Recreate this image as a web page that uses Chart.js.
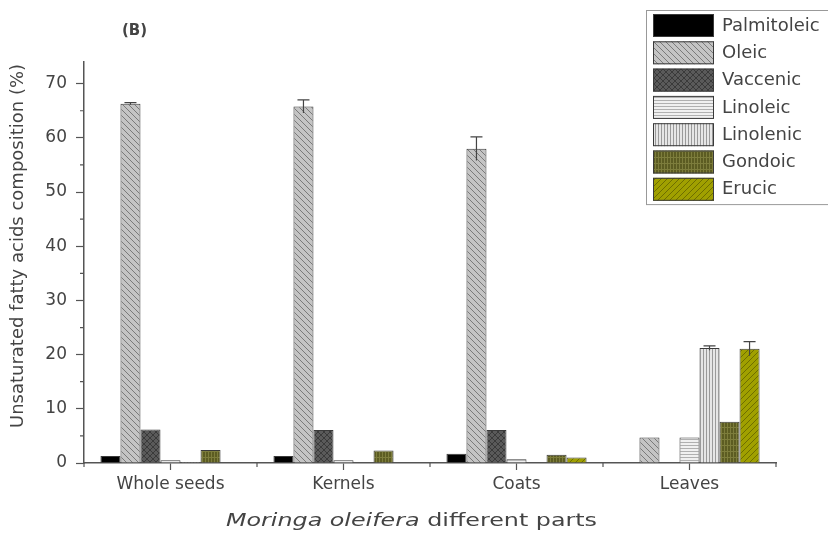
<!DOCTYPE html>
<html>
<head>
<meta charset="utf-8">
<script src="https://cdn.jsdelivr.net/npm/chart.js@4"></script>
<style>
  html, body { margin: 0; padding: 0; background: #fff; }
  #wrap { width: 828px; height: 534px; position: relative; }
</style>
</head>
<body>
<div id="wrap"><canvas id="fattyChart"></canvas></div>
<script>
// data
const parts = ["Whole seeds", "Kernels", "Coats", "Leaves"];
const acids = ["Palmitoleic", "Oleic", "Vaccenic", "Linoleic", "Linolenic", "Gondoic", "Erucic"];
const palmitoleic = [1.3, 1.3, 1.7, 0];
const oleic = [66.3, 65.8, 58.0, 4.7];
const vaccenic = [6.2, 6.1, 6.1, 0];
const linoleic = [0.5, 0.5, 0.7, 4.7];
const linolenic = [0.2, 0.1, 0, 21.2];
const gondoic = [2.4, 2.3, 1.5, 7.6];
const erucic = [0, 0, 1.0, 21.1];
const oleicErr = [0.2, 1.2, 2.2, 0];
const linolenicErr = [0, 0, 0, 0.4];
const erucicErr = [0, 0, 0, 1.3];
const yTicks = [0, 10, 20, 30, 40, 50, 60, 70];

const FONT = "'DejaVu Sans', 'Liberation Sans', sans-serif";
const TXT = "#444";

function makePattern(bg, fg, kind) {
  const c = document.createElement("canvas");
  c.width = 6; c.height = 6;
  const g = c.getContext("2d");
  g.fillStyle = bg;
  g.fillRect(0, 0, 6, 6);
  g.strokeStyle = fg;
  g.lineWidth = 1;
  g.beginPath();
  if (kind === "back") {          // "\" lines
    g.moveTo(-1, -1); g.lineTo(7, 7);
    g.moveTo(-1, 5); g.lineTo(1, 7);
    g.moveTo(5, -1); g.lineTo(7, 1);
  } else if (kind === "fwd") {    // "/" lines
    g.moveTo(-1, 7); g.lineTo(7, -1);
    g.moveTo(-1, 1); g.lineTo(1, -1);
    g.moveTo(5, 7); g.lineTo(7, 5);
  } else if (kind === "cross") {
    g.moveTo(-1, -1); g.lineTo(7, 7);
    g.moveTo(-1, 7); g.lineTo(7, -1);
  } else if (kind === "horiz") {
    g.moveTo(0, 1.5); g.lineTo(6, 1.5);
    g.moveTo(0, 4.5); g.lineTo(6, 4.5);
  } else if (kind === "vert") {
    g.moveTo(1.5, 0); g.lineTo(1.5, 6);
    g.moveTo(4.5, 0); g.lineTo(4.5, 6);
  } else if (kind === "grid") {
    g.moveTo(0, 1.5); g.lineTo(6, 1.5);
    g.moveTo(1.5, 0); g.lineTo(1.5, 6);
    g.moveTo(4.5, 0); g.lineTo(4.5, 6);
  }
  g.stroke();
  return g.createPattern(c, "repeat");
}

const fills = [
  "#000000",
  makePattern("#c4c4c4", "#7a7a7a", "back"),
  makePattern("#5a5a5a", "#3a3a3a", "cross"),
  makePattern("#f0f0f0", "#b0b0b0", "horiz"),
  makePattern("#e6e6e6", "#9a9a9a", "vert"),
  makePattern("#5c5c22", "#7d7d3c", "grid"),
  makePattern("#a0a000", "#6e6e00", "fwd")
];
const seriesData = [palmitoleic, oleic, vaccenic, linoleic, linolenic, gondoic, erucic];
const seriesErr = [null, oleicErr, null, null, linolenicErr, null, erucicErr];

const datasets = acids.map((name, i) => ({
  label: name,
  data: seriesData[i],
  errors: seriesErr[i],
  backgroundColor: fills[i],
  borderColor: "#3a3a3a",
  borderWidth: 1,
  borderSkipped: "bottom"
}));

// error bars drawn from the y scale
const errorBars = {
  id: "errorBars",
  afterDatasetsDraw(chart) {
    const ctx = chart.ctx;
    const y = chart.scales.y;
    ctx.save();
    ctx.strokeStyle = "#444";
    ctx.lineWidth = 1.2;
    chart.data.datasets.forEach((ds, i) => {
      if (!ds.errors) return;
      chart.getDatasetMeta(i).data.forEach((bar, j) => {
        const e = ds.errors[j];
        if (!e) return;
        const top = y.getPixelForValue(ds.data[j] + e);
        const mid = y.getPixelForValue(ds.data[j] - e);
        ctx.beginPath();
        ctx.moveTo(bar.x, mid); ctx.lineTo(bar.x, top);
        ctx.moveTo(bar.x - 6, top); ctx.lineTo(bar.x + 6, top);
        ctx.stroke();
      });
    });
    ctx.restore();
  }
};

// minor ticks, titles and the boxed legend
const decorations = {
  id: "decorations",
  afterDraw(chart) {
    const ctx = chart.ctx;
    const x = chart.scales.x, y = chart.scales.y;
    const area = chart.chartArea;
    ctx.save();
    ctx.strokeStyle = "#555";
    ctx.lineWidth = 1.2;
    ctx.beginPath();
    for (let v = 5; v < 74; v += 10) {
      const py = y.getPixelForValue(v);
      ctx.moveTo(area.left - 4, py); ctx.lineTo(area.left, py);
    }
    for (let i = 0; i <= parts.length; i++) {
      const px = x.getPixelForValue(i - 0.5);
      ctx.moveTo(px, area.bottom); ctx.lineTo(px, area.bottom + 4);
    }
    ctx.stroke();

    // panel label
    ctx.fillStyle = TXT;
    ctx.font = "bold 15px " + FONT;
    ctx.textAlign = "left";
    ctx.textBaseline = "middle";
    ctx.fillText("(B)", 122, 31);

    // y axis title
    ctx.save();
    ctx.translate(18, 246);
    ctx.rotate(-Math.PI / 2);
    ctx.textAlign = "center";
    ctx.font = "18px " + FONT;
    ctx.fillText("Unsaturated fatty acids composition (%)", 0, 0);
    ctx.restore();

    // x axis title with italic species name, widened like the source figure
    const italic = "italic 18px " + FONT;
    const normal = "18px " + FONT;
    const a = "Moringa oleifera";
    const b = " different parts";
    ctx.font = italic;
    const wa = ctx.measureText(a).width;
    ctx.font = normal;
    const wb = ctx.measureText(b).width;
    const k = 371 / (wa + wb);
    ctx.save();
    ctx.translate(226, 521);
    ctx.scale(k, 1);
    ctx.font = italic;
    ctx.fillText(a, 0, 0);
    ctx.font = normal;
    ctx.fillText(b, wa, 0);
    ctx.restore();

    // legend box
    const lx = 646, ly = 10, rowH = 27.3;
    ctx.strokeStyle = "#999";
    ctx.lineWidth = 1;
    ctx.fillStyle = "#fff";
    ctx.fillRect(lx, ly, 190, rowH * acids.length + 3);
    ctx.strokeRect(lx + 0.5, ly + 0.5, 190, rowH * acids.length + 3);
    ctx.font = "18px " + FONT;
    acids.forEach((name, i) => {
      const top = ly + 4 + i * rowH;
      ctx.fillStyle = fills[i];
      ctx.fillRect(lx + 7, top, 61, 23);
      ctx.strokeStyle = "#3a3a3a";
      ctx.strokeRect(lx + 7.5, top + 0.5, 60, 22);
      ctx.fillStyle = TXT;
      ctx.fillText(name, lx + 76, top + 12);
    });
    ctx.restore();
  }
};

new Chart(document.getElementById("fattyChart"), {
  type: "bar",
  data: { labels: parts, datasets: datasets },
  plugins: [errorBars, decorations],
  options: {
    responsive: true,
    maintainAspectRatio: false,
    animation: false,
    layout: { padding: { top: 62, right: 52, left: 0, bottom: 0 } },
    datasets: { bar: { categoryPercentage: 0.81, barPercentage: 1 } },
    plugins: { legend: { display: false }, tooltip: { enabled: false } },
    scales: {
      x: {
        afterFit: s => { s.height = 71; },
        grid: { offset: false, drawOnChartArea: false, tickLength: 7, tickColor: "#555", tickWidth: 1.2 },
        border: { color: "#555", width: 1.5 },
        ticks: { color: TXT, font: { family: FONT, size: 17 }, padding: 4 }
      },
      y: {
        min: 0,
        max: 74,
        afterFit: s => { s.width = 84; },
        afterBuildTicks: s => { s.ticks = yTicks.map(v => ({ value: v })); },
        grid: { drawOnChartArea: false, tickLength: 8, tickColor: "#555", tickWidth: 1.2 },
        border: { color: "#555", width: 1.5 },
        ticks: { color: TXT, font: { family: FONT, size: 17 }, padding: 9 }
      }
    }
  }
});
</script>
</body>
</html>
